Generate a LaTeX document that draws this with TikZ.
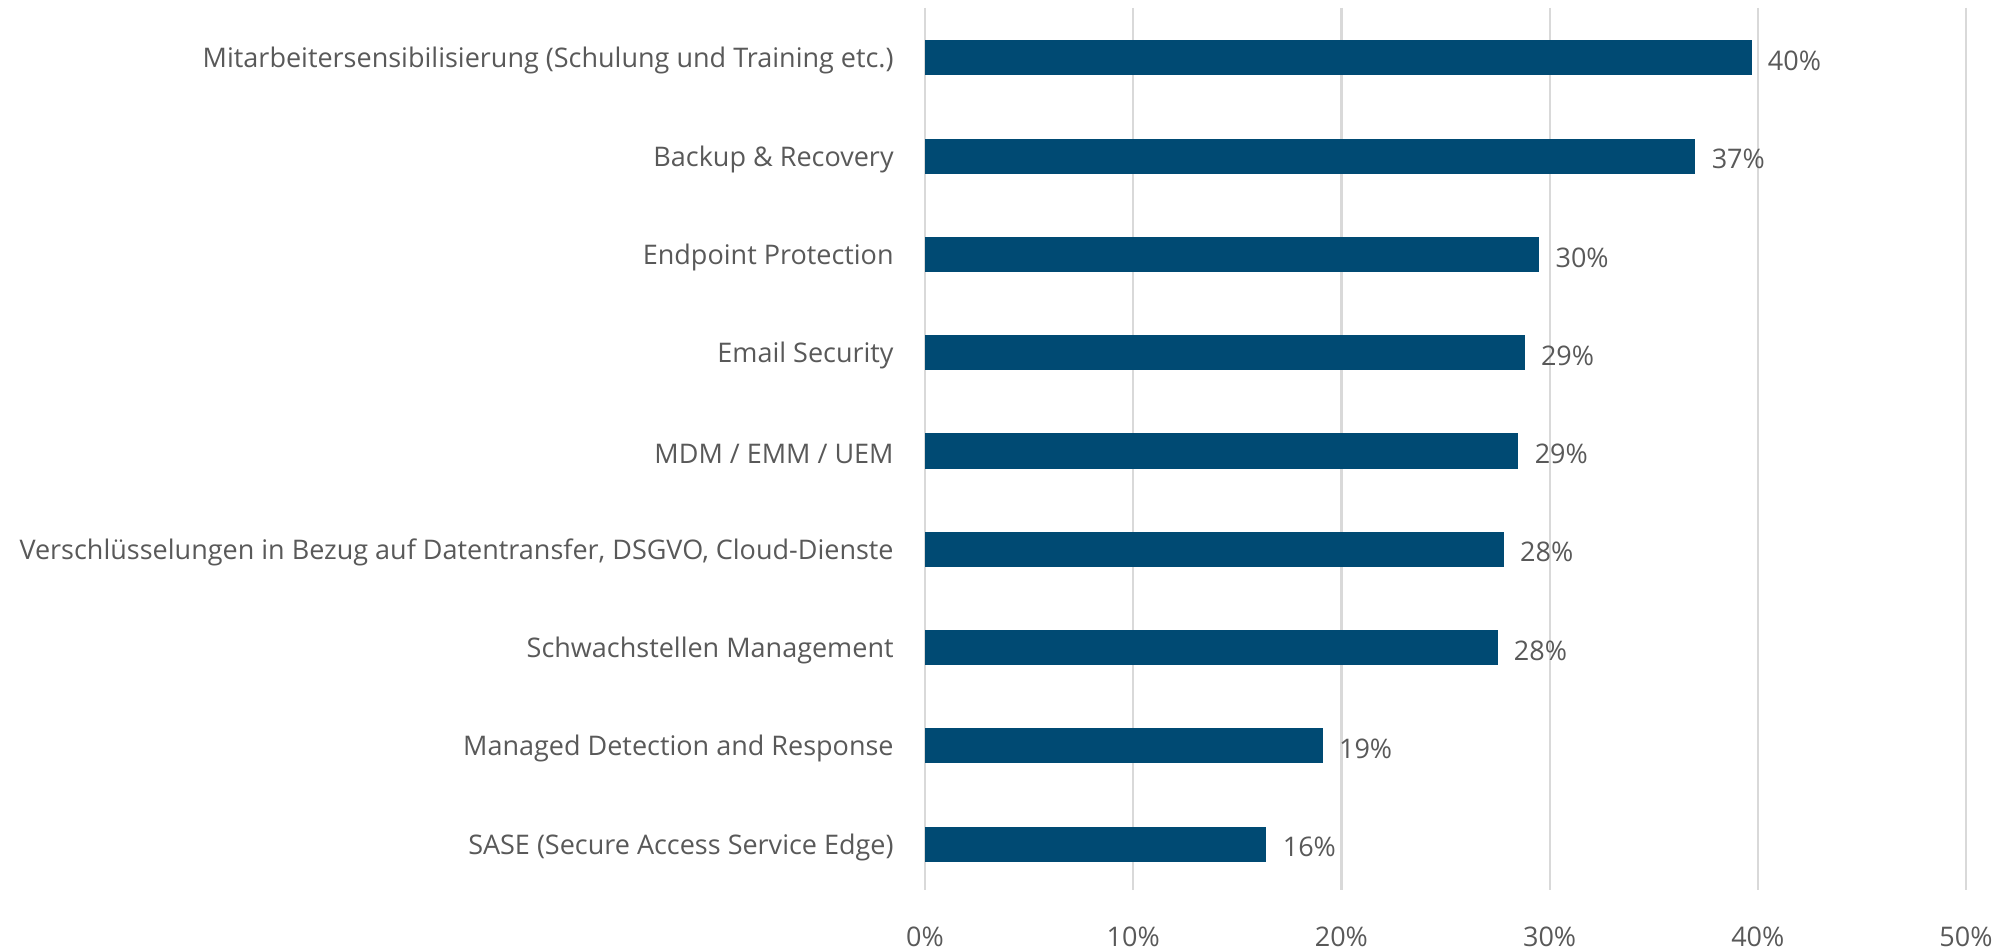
\documentclass[tikz,border=0pt]{standalone}
\usepackage{fontspec}
\setmainfont{Open Sans}
\definecolor{barblue}{HTML}{004A73}
\definecolor{gridgray}{HTML}{D9D9D9}
\definecolor{labelgray}{HTML}{595959}

\tikzset{
    bar/.style={fill=barblue},
    grid line/.style={draw=gridgray,line width=1.1pt},
    category/.style={anchor=east,inner sep=0pt,text=labelgray,
        font=\fontsize{13.5}{16}\selectfont},
    value label/.style={anchor=west,inner sep=0pt,text=labelgray,
        font=\fontsize{13.5}{16}\selectfont},
    tick label/.style={inner sep=0pt,text=labelgray,
        font=\fontsize{13.5}{16}\selectfont}
}

\begin{document}
\begin{tikzpicture}[x=0.5pt,y=-0.5pt]
        \useasboundingbox (0,0) rectangle (2015,952);
        % vertical grid and axis labels
        \foreach \t/\lab in {0/0,1/10,2/20,3/30,4/40,5/50} {
            \draw[grid line] (925+208.2*\t,8) -- (925+208.2*\t,890);
            \node[tick label] (tick\t) at (925+208.2*\t,937) {\lab\%};
        }
        % bars
        \foreach \i/\v/\lab/\name [evaluate=\i as \y using 57.8+98.3*(\i-1)] in
            {1/39.7/40/{Mitarbeitersensibilisierung (Schulung und Training etc.)},
             2/37.0/37/{Backup \& Recovery},
             3/29.5/30/{Endpoint Protection},
             4/28.8/29/{Email Security},
             5/28.5/29/{MDM / EMM / UEM},
             6/27.8/28/{Verschlüsselungen in Bezug auf Datentransfer, DSGVO, Cloud-Dienste},
             7/27.5/28/{Schwachstellen Management},
             8/19.1/19/{Managed Detection and Response},
             9/16.4/16/{SASE (Secure Access Service Edge)}} {
            \fill[bar] (925,\y-17.5) rectangle (925+20.82*\v,\y+17.5);
            \coordinate (end\i) at (925+20.82*\v,\y);
            \node[category] (cat\i) at (894,\y+3) {\name};
            \node[value label] (val\i) at ([xshift=8pt,yshift=-1.5pt]end\i) {\lab\%};
        }
    \end{tikzpicture}
\end{document}
